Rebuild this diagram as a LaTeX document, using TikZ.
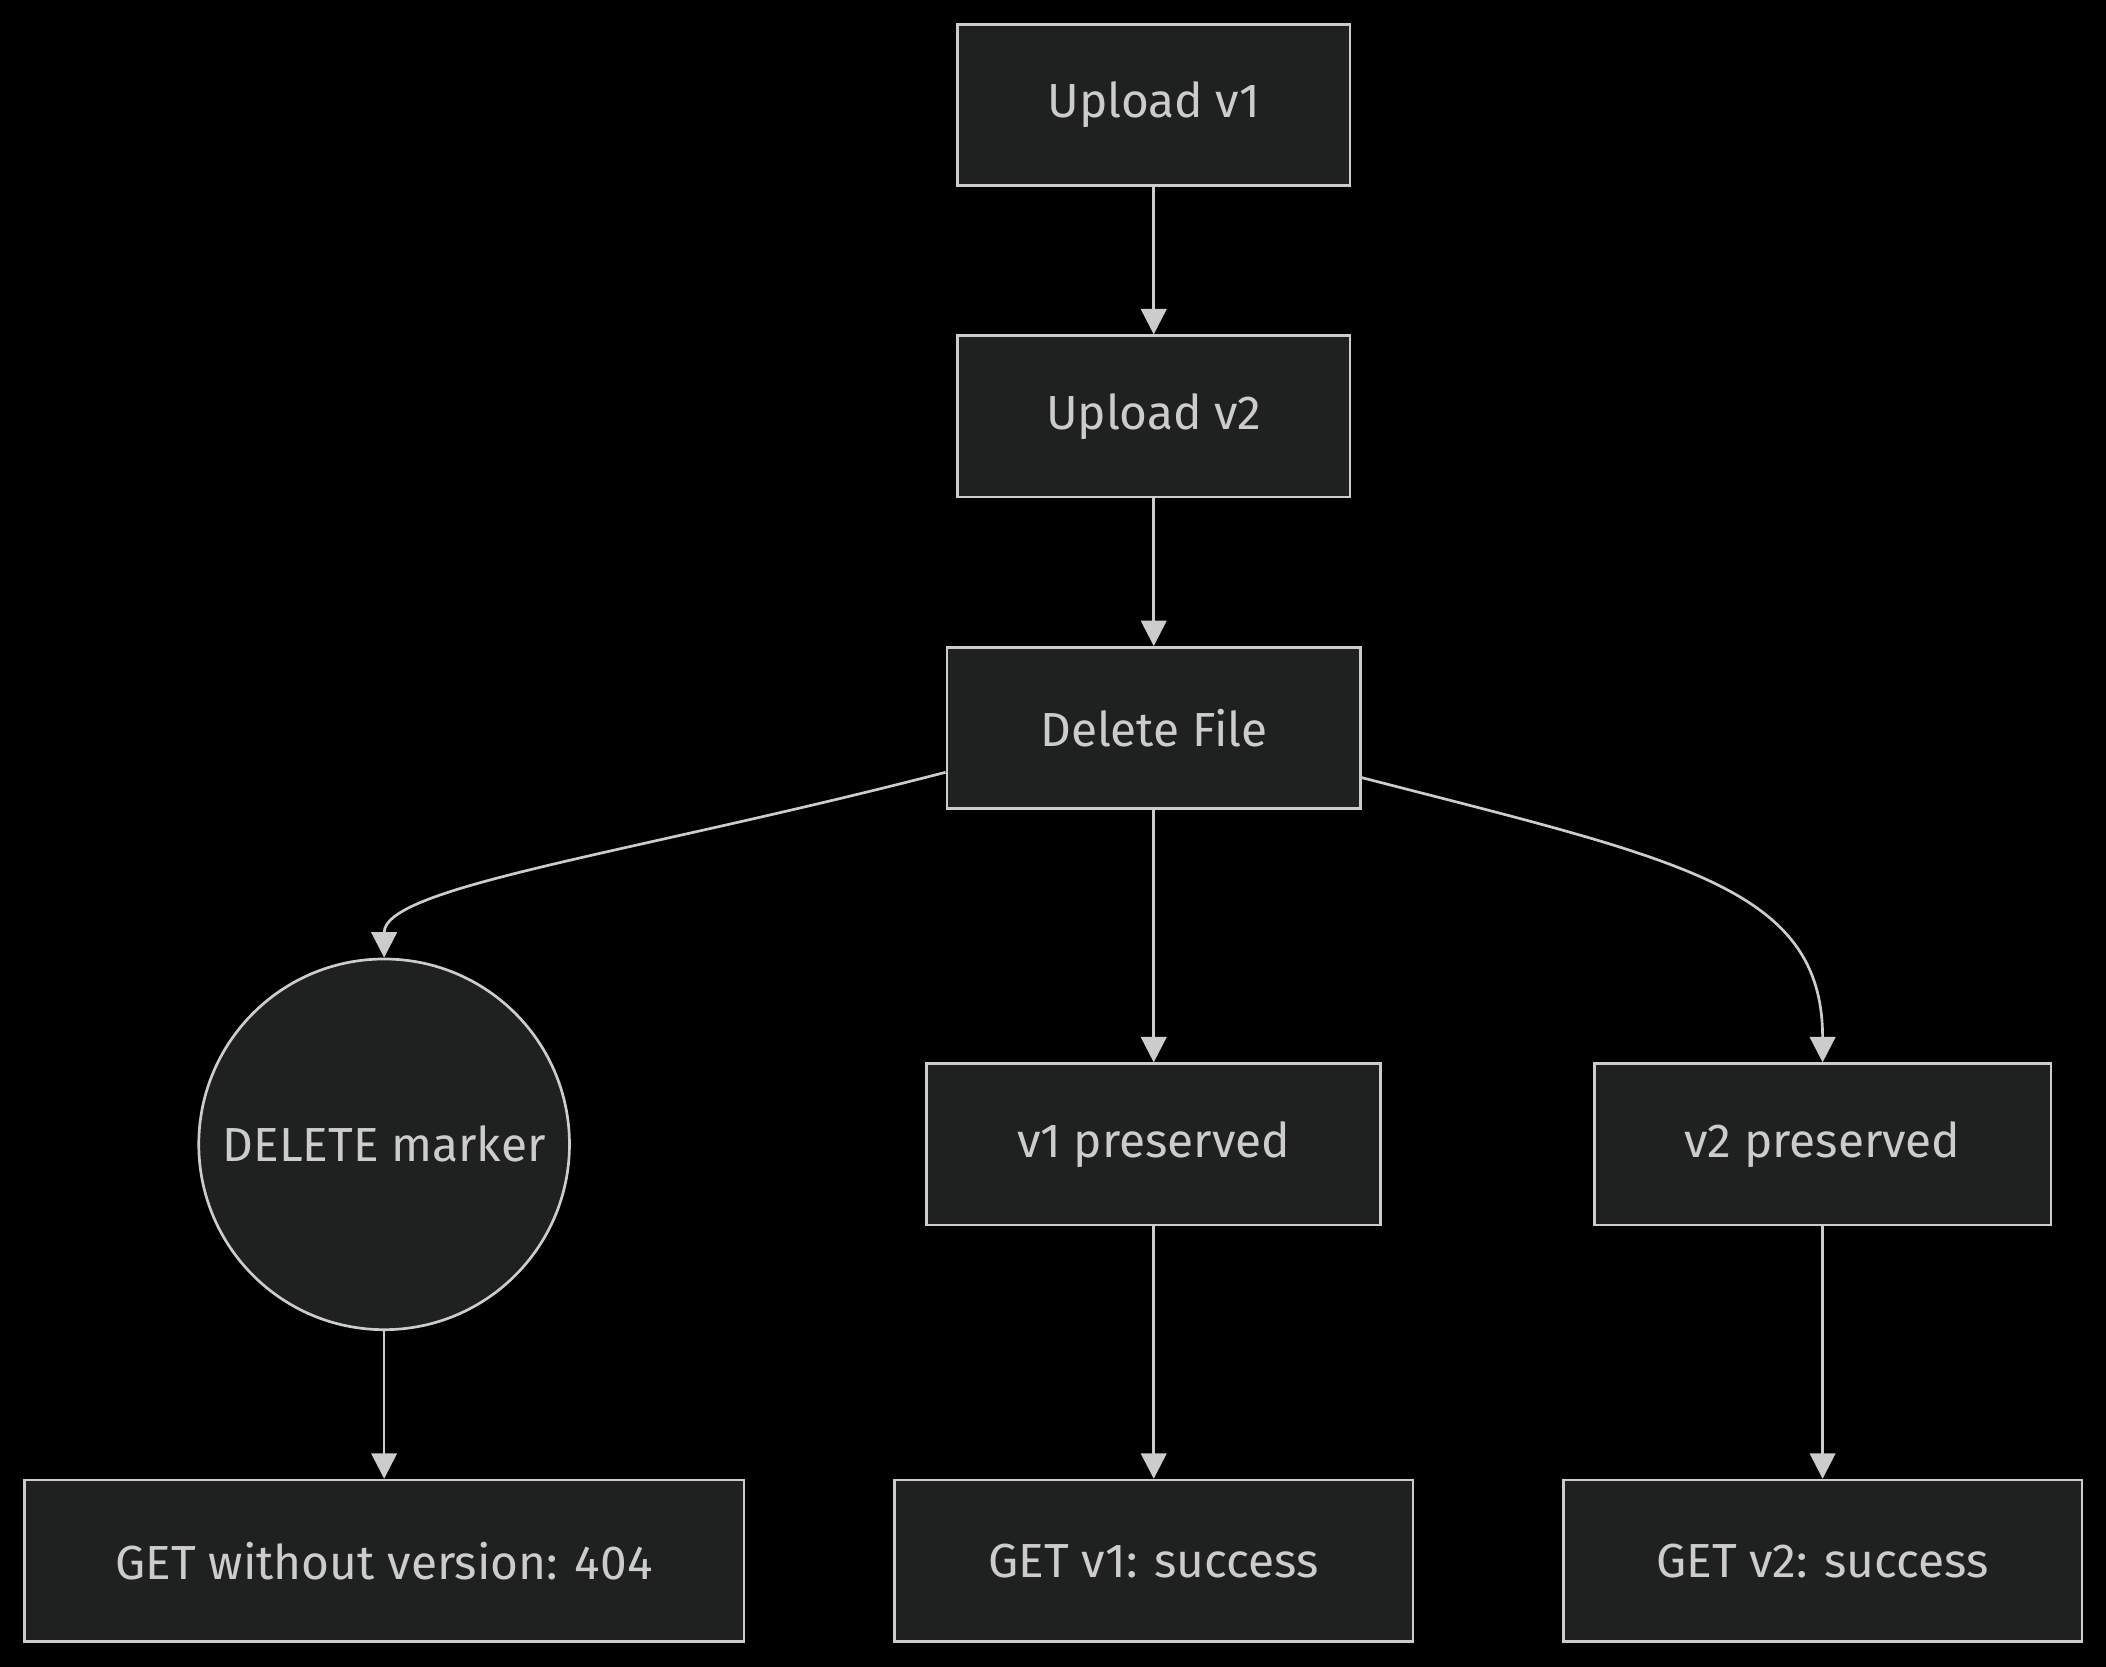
\documentclass[tikz,border=0pt]{standalone}
\usepackage{fontspec}
\setmainfont{Fira Sans}
\usetikzlibrary{arrows.meta}
\definecolor{nodefill}{HTML}{1F2020}
\definecolor{linegray}{HTML}{CCCCCC}
\tikzset{
  box/.style={draw=linegray, line width=1pt, fill=nodefill, text=linegray,
    minimum height=60pt, inner sep=0pt, font=\fontsize{17.8}{21}\selectfont},
  roundbox/.style={box, circle, minimum size=138pt},
  link/.style={draw=linegray, line width=1pt, -{Triangle[width=9.5pt,length=9.5pt]}}
}

\begin{document}
\begin{tikzpicture}[x=0.5pt, y=-0.5pt]
			%%%%% START %%%%%
			
			\fill[black] (0, 0) rectangle (1568, 1241);
			\useasboundingbox (0, 0) rectangle (1568, 1241);
			
			\node[box, minimum width=146pt] (upone) at (859, 78) {Upload v1};
			\node[box, minimum width=146pt] (uptwo) at (859, 310) {Upload v2};
			\node[box, minimum width=154pt] (delfile) at (859, 542) {Delete File};
			
			\node[roundbox] (marker) at (286, 852) {DELETE marker};
			\node[box, minimum width=169pt] (keepone) at (859, 852) {v1 preserved};
			\node[box, minimum width=170pt] (keeptwo) at (1357, 852) {v2 preserved};
			
			\node[box, minimum width=268pt] (getnone) at (286, 1162) {GET without version: 404};
			\node[box, minimum width=193pt] (getone) at (859, 1162) {GET v1: success};
			\node[box, minimum width=193pt] (gettwo) at (1357, 1162) {GET v2: success};
			
			\draw[link] (upone) -- (uptwo);
			\draw[link] (uptwo) -- (delfile);
			\draw[link] (delfile) -- (keepone);
			
			\draw[link] (delfile.west |- 0, 575) .. controls (468, 636) and (286, 660) .. (marker.north);
			\draw[link] (delfile.east |- 0, 579) .. controls (1250, 640) and (1357, 660) .. (keeptwo.north);
			
			\draw[link] (marker) -- (getnone);
			\draw[link] (keepone) -- (getone);
			\draw[link] (keeptwo) -- (gettwo);
			
			%%%%% END %%%%%
		\end{tikzpicture}
\end{document}
